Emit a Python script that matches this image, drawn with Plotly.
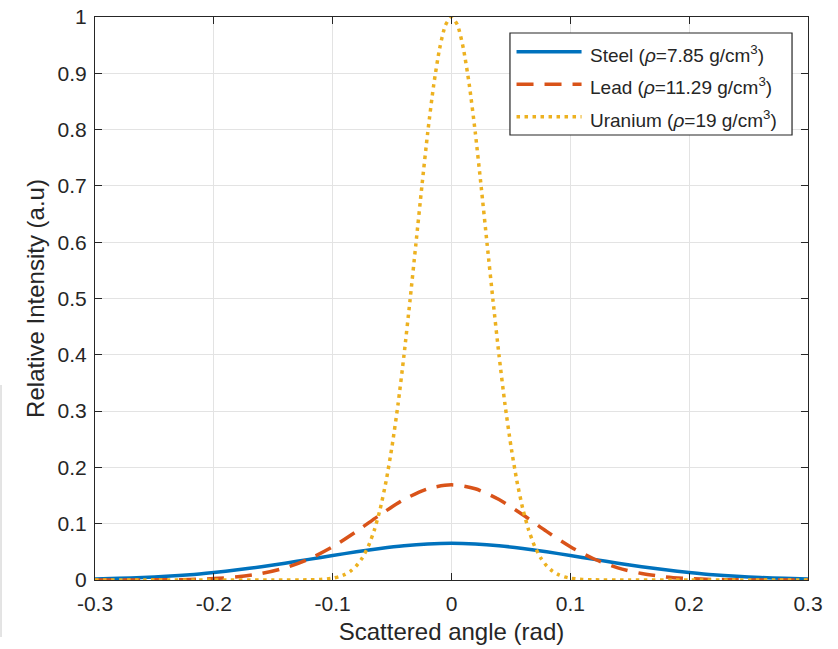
import plotly.graph_objects as go

# Scattering angle grids (rad)
angle_wide = [-0.30, -0.28, -0.26, -0.24, -0.22, -0.20, -0.18, -0.16, -0.14, -0.12,
              -0.10, -0.08, -0.06, -0.04, -0.02, 0.00, 0.02, 0.04, 0.06, 0.08,
              0.10, 0.12, 0.14, 0.16, 0.18, 0.20, 0.22, 0.24, 0.26, 0.28, 0.30]

steel_intensity = [0.0018, 0.0029, 0.0044, 0.0065, 0.0094, 0.0135, 0.0181, 0.0236, 0.0299, 0.0366,
                   0.0434, 0.0502, 0.0561, 0.0609, 0.0640, 0.0652, 0.0640, 0.0609, 0.0561, 0.0502,
                   0.0434, 0.0366, 0.0299, 0.0236, 0.0181, 0.0135, 0.0094, 0.0065, 0.0044, 0.0029, 0.0018]

lead_intensity = [0.0000, 0.0000, 0.0001, 0.0004, 0.0010, 0.0025, 0.0056, 0.0115, 0.0216, 0.0373,
                  0.0591, 0.0863, 0.1158, 0.1429, 0.1620, 0.1690, 0.1620, 0.1429, 0.1158, 0.0863,
                  0.0591, 0.0373, 0.0216, 0.0115, 0.0056, 0.0025, 0.0010, 0.0004, 0.0001, 0.0000, 0.0000]

angle_narrow = [-0.30, -0.25, -0.20, -0.15, -0.12, -0.11, -0.100, -0.095, -0.090, -0.085,
                -0.080, -0.075, -0.070, -0.065, -0.060, -0.055, -0.050, -0.045, -0.040,
                -0.035, -0.030, -0.025, -0.020, -0.015, -0.010, -0.005, 0.000,
                0.005, 0.010, 0.015, 0.020, 0.025, 0.030, 0.035, 0.040, 0.045, 0.050,
                0.055, 0.060, 0.065, 0.070, 0.075, 0.080, 0.085, 0.090, 0.095, 0.100,
                0.11, 0.12, 0.15, 0.20, 0.25, 0.30]

uranium_intensity = [0.0, 0.0, 0.0, 0.0, 0.0003, 0.0010, 0.0032, 0.0056, 0.0095, 0.0157,
                     0.0253, 0.0395, 0.0599, 0.0883, 0.1264, 0.1760, 0.2380, 0.3120, 0.3990,
                     0.4950, 0.5960, 0.6980, 0.7950, 0.8790, 0.9440, 0.9860, 1.0000,
                     0.9860, 0.9440, 0.8790, 0.7950, 0.6980, 0.5960, 0.4950, 0.3990, 0.3120, 0.2380,
                     0.1760, 0.1264, 0.0883, 0.0599, 0.0395, 0.0253, 0.0157, 0.0095, 0.0056, 0.0032,
                     0.0010, 0.0003, 0.0, 0.0, 0.0, 0.0]

series_names = ["Steel (<i>ρ</i>=7.85 g/cm<sup>3</sup>)",
                "Lead (<i>ρ</i>=11.29 g/cm<sup>3</sup>)",
                "Uranium (<i>ρ</i>=19 g/cm<sup>3</sup>)"]
series_colors = ["#0072BD", "#D95319", "#EDB120"]

x_tick_values = [-0.3, -0.2, -0.1, 0.0, 0.1, 0.2, 0.3]
x_tick_labels = ["-0.3", "-0.2", "-0.1", "0", "0.1", "0.2", "0.3"]
y_tick_values = [0.0, 0.1, 0.2, 0.3, 0.4, 0.5, 0.6, 0.7, 0.8, 0.9, 1.0]
y_tick_labels = ["0", "0.1", "0.2", "0.3", "0.4", "0.5", "0.6", "0.7", "0.8", "0.9", "1"]

FONT = "Liberation Sans, Arial, Helvetica, sans-serif"
INK = "#262626"
line_styles = [
    dict(color=series_colors[0], width=3.5, dash="solid"),
    dict(color=series_colors[1], width=3.5, dash="17px,11px"),
    dict(color=series_colors[2], width=3.5, dash="3.5px,4.5px"),
]

fig = go.Figure()
fig.add_trace(go.Scatter(x=angle_wide, y=steel_intensity, mode="lines",
                         line=dict(shape="spline", smoothing=0.8, **line_styles[0]),
                         name=series_names[0], showlegend=False))
fig.add_trace(go.Scatter(x=angle_wide, y=lead_intensity, mode="lines",
                         line=dict(shape="spline", smoothing=0.8, **line_styles[1]),
                         name=series_names[1], showlegend=False))
fig.add_trace(go.Scatter(x=angle_narrow, y=uranium_intensity, mode="lines",
                         line=dict(shape="spline", smoothing=0.6, **line_styles[2]),
                         name=series_names[2], showlegend=False))

axis_common = dict(
    showline=True, linecolor=INK, linewidth=1.2, mirror="allticks",
    ticks="inside", ticklen=7, tickcolor=INK, tickwidth=1,
    showgrid=True, gridcolor="#e3e3e3", gridwidth=1,
    zeroline=False, automargin=False,
    tickfont=dict(family=FONT, size=21, color=INK),
)

fig.update_xaxes(range=[-0.3, 0.3], tickvals=x_tick_values, ticktext=x_tick_labels,
                 ticklabelstandoff=5,
                 title=dict(text="Scattered angle (rad)", font=dict(family=FONT, size=24, color=INK),
                            standoff=8),
                 **axis_common)
fig.update_yaxes(range=[0, 1], tickvals=y_tick_values, ticktext=y_tick_labels,
                 ticklabelstandoff=3,
                 title=dict(text="Relative Intensity (a.u)", font=dict(family=FONT, size=24, color=INK),
                            standoff=6),
                 **axis_common)

# Legend box drawn in paper coordinates
legend_box = dict(x0=0.582, x1=0.9776, y0=0.7904, y1=0.9716)
text_row_y = [0.9343, 0.8766, 0.8188]
sample_row_y = [0.9384, 0.8805, 0.8229]
sample_x = (0.5912, 0.6824)
text_x = 0.6919

shapes = [dict(type="rect", xref="paper", yref="paper", line=dict(color=INK, width=1.2),
               fillcolor="white", layer="above", **legend_box)]
annotations = []
for name, ty, sy, style in zip(series_names, text_row_y, sample_row_y, line_styles):
    shapes.append(dict(type="line", xref="paper", yref="paper", x0=sample_x[0], x1=sample_x[1],
                       y0=sy, y1=sy, line=style, layer="above"))
    annotations.append(dict(text=name, xref="paper", yref="paper", x=text_x, y=ty,
                            xanchor="left", yanchor="middle", showarrow=False,
                            font=dict(family=FONT, size=19, color=INK)))

# thin edge line at the far left of the figure
shapes.append(dict(type="line", xref="paper", yref="paper",
                   x0=-94 / 713, x1=-94 / 713, y0=(580 - 385) / 563, y1=(580 - 637) / 563,
                   line=dict(color="#c8c8c8", width=1)))

fig.update_layout(
    width=838, height=649,
    margin=dict(l=95, r=30, t=17, b=69),
    paper_bgcolor="white", plot_bgcolor="white",
    shapes=shapes, annotations=annotations,
    showlegend=False,
)

fig.write_html("out.html")
